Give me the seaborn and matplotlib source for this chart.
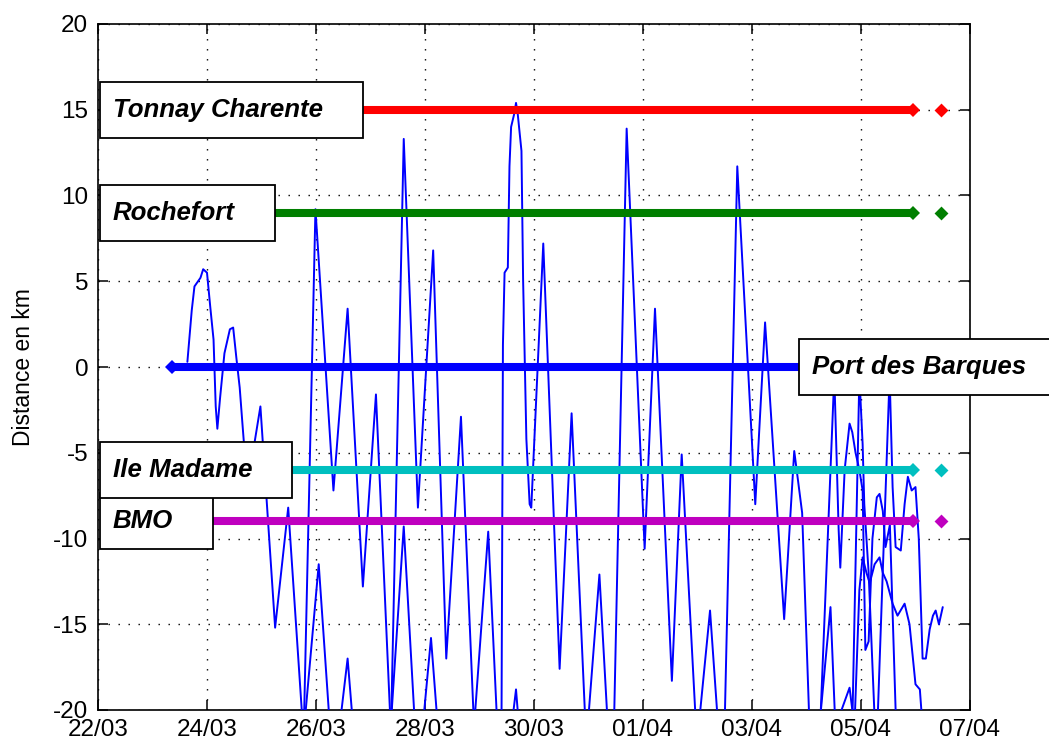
import matplotlib
matplotlib.use("Agg")
import matplotlib.pyplot as plt
from matplotlib.patches import Rectangle
from matplotlib.transforms import IdentityTransform
import seaborn as sns

# ---- data -----------------------------------------------------------------
# time axis: days since 22/03 00:00
tick_days = [0, 2, 4, 6, 8, 10, 12, 14, 16]
tick_labels = ["22/03", "24/03", "26/03", "28/03", "30/03",
               "01/04", "03/04", "05/04", "07/04"]
y_ticks = [-20, -15, -10, -5, 0, 5, 10, 15, 20]

# stations along the estuary (km relative to Port des Barques)
stations = ["Tonnay Charente", "Rochefort", "Port des Barques", "Ile Madame", "BMO"]
station_km = [15, 9, 0, -6, -9]
station_colors = ["#ff0000", "#007f00", "#0000ff", "#00bfbf", "#bf00bf"]
label_day = [0.27, 0.27, 13.1, 0.27, 0.27]

# period covered by the station records (days since 22/03)
record_start = 1.36
record_end = 14.95
record_last = 15.47

# drifter tracks: time (days since 22/03) and distance (km)
track_a_t = [1.64, 1.72, 1.77, 1.88, 1.93, 2.00, 2.06, 2.12, 2.16, 2.19, 2.24, 2.32,
             2.42, 2.48, 2.54, 2.60, 2.65, 2.74, 2.98, 3.25, 3.49, 3.77, 4.05, 4.32,
             4.58, 4.86]
track_a_km = [0.3, 3.3, 4.7, 5.2, 5.7, 5.5, 3.5, 1.6, -2.3, -3.6, -1.8, 0.8,
              2.2, 2.3, 0.5, -1.2, -3.3, -7.0, -2.3, -15.2, -8.2, -21.5, -11.5, -24.0,
              -17.0, -28.0]

track_b_t = [3.77, 3.99, 4.32, 4.58, 4.86, 5.10, 5.37, 5.61, 5.87, 6.11, 6.38]
track_b_km = [-22.0, 9.2, -7.2, 3.4, -12.8, -1.6, -21.0, -9.3, -24.0, -15.8, -27.0]

track_c_t = [5.37, 5.61, 5.87, 6.15, 6.39, 6.66, 6.90, 7.16, 7.40, 7.67, 7.95]
track_c_km = [-22.0, 13.3, -8.2, 6.8, -17.0, -2.9, -21.0, -9.6, -26.0, -18.8, -30.0]

track_d_t = [7.40, 7.43, 7.46, 7.52, 7.55, 7.58, 7.64, 7.67, 7.70, 7.77, 7.80, 7.86,
             7.92, 7.95, 8.17, 8.47, 8.69, 8.96, 9.20, 9.46, 9.70, 9.98]
track_d_km = [-24.0, 1.3, 5.5, 5.8, 11.7, 14.0, 14.8, 15.4, 14.8, 12.6, 5.1, -4.2,
              -8.0, -8.2, 7.2, -17.6, -2.7, -22.0, -12.1, -27.0, -21.0, -30.0]

track_e_t = [9.46, 9.70, 10.03, 10.22, 10.53, 10.71, 10.99, 11.23, 11.49]
track_e_km = [-22.0, 13.9, -10.6, 3.4, -18.3, -5.1, -22.0, -14.2, -26.0]

track_f_t = [11.49, 11.73, 12.06, 12.24, 12.59, 12.775, 12.92, 13.05, 13.20]
track_f_km = [-22.0, 11.7, -8.0, 2.6, -14.7, -4.9, -8.5, -20.5, -22.0]

track_g_t = [13.25, 13.44, 13.53, 13.79, 13.88, 13.97, 14.03, 14.10, 14.16, 14.25,
             14.34, 14.40, 14.47, 14.58, 14.67, 14.80, 14.89, 15.00, 15.08, 15.13]
track_g_km = [-20.5, -14.0, -21.0, -18.7, -21.0, -13.0, -11.1, -12.0, -12.6, -11.5,
              -11.1, -12.0, -12.5, -13.8, -14.5, -13.8, -15.0, -18.5, -18.8, -21.0]

track_h_t = [13.25, 13.51, 13.59, 13.62, 13.70, 13.79, 13.84, 13.90, 13.97, 14.03,
             14.08, 14.14, 14.21, 14.29, 14.34, 14.40, 14.45, 14.53, 14.64]
track_h_km = [-21.0, -0.5, -9.5, -11.7, -6.0, -3.3, -3.8, -5.0, -6.0, -7.2,
              -16.5, -16.0, -10.0, -7.6, -7.4, -8.4, -10.5, -9.2, -20.5]

track_i_t = [13.84, 13.97, 14.03, 14.06, 14.14, 14.25]
track_i_km = [-21.0, -0.5, -4.5, -8.0, -12.0, -20.5]

track_j_t = [14.30, 14.525, 14.58, 14.635, 14.73, 14.80, 14.86, 14.93, 15.00, 15.06,
             15.13, 15.19, 15.26, 15.32, 15.37, 15.43, 15.50]
track_j_km = [-21.0, -0.5, -7.0, -10.5, -10.7, -8.0, -6.4, -7.2, -7.0, -10.0,
              -17.0, -17.0, -15.3, -14.5, -14.2, -15.0, -14.0]

tracks = [
    (track_a_t, track_a_km), (track_b_t, track_b_km), (track_c_t, track_c_km),
    (track_d_t, track_d_km), (track_e_t, track_e_km), (track_f_t, track_f_km),
    (track_g_t, track_g_km), (track_h_t, track_h_km), (track_i_t, track_i_km),
    (track_j_t, track_j_km),
]

# ---- figure ---------------------------------------------------------------
sns.set_style("white")
plt.rcParams["font.family"] = ["Liberation Sans", "DejaVu Sans"]
plt.rcParams["text.color"] = "black"

W, H = 1049, 742
fig = plt.figure(figsize=(W / 100, H / 100), dpi=100)
ax = fig.add_axes([98 / W, 1 - 710 / H, 872 / W, 686 / H])

# drifter tracks
for t, km in tracks:
    sns.lineplot(x=t, y=km, ax=ax, color="#0000ff", linewidth=1.4,
                 sort=False, estimator=None, zorder=3)

# station reference lines
for km, col in zip(station_km, station_colors):
    sns.lineplot(x=[record_start, record_end], y=[km, km], ax=ax, color=col,
                 linewidth=5.8, solid_capstyle="butt", marker="D",
                 markersize=7, markeredgewidth=0, zorder=4)
    sns.scatterplot(x=[record_last], y=[km], ax=ax, color=col, marker="D",
                    s=50, linewidth=0, zorder=4)

ax.set_xlim(tick_days[0], tick_days[-1])
ax.set_ylim(y_ticks[0], y_ticks[-1])
ax.set_xticks(tick_days)
ax.set_xticklabels(tick_labels)
ax.set_yticks(y_ticks)
ax.set_yticklabels([str(v) for v in y_ticks])
ax.tick_params(direction="in", length=7, width=1.1, labelsize=17.5, colors="black",
               labelcolor="black", top=True, right=True, bottom=True, left=True)
ax.tick_params(axis="x", pad=6.5)
ax.tick_params(axis="y", pad=7)
for s in ax.spines.values():
    s.set_color("black")
    s.set_linewidth(1.2)
    s.set_visible(True)
ax.grid(True, color="black", linestyle=(0, (1, 6.2)), linewidth=1.0)
ax.set_axisbelow(True)

ax.set_ylabel("Distance en km", fontsize=16.5, color="black")
ax.yaxis.set_label_coords(-(98 - 35) / 872, 0.5)
ax.set_xlabel("")

# station name boxes
texts = []
for name, km, d in zip(stations, station_km, label_day):
    txt = ax.text(d, km, name, fontsize=18.6, fontweight="bold", fontstyle="italic",
                  color="black", ha="left", va="center", zorder=7, clip_on=False)
    texts.append(txt)

fig.canvas.draw()
renderer = fig.canvas.get_renderer()
box_z = {"BMO": 5, "Ile Madame": 6}
for txt, name, km in zip(texts, stations, station_km):
    bb = txt.get_window_extent(renderer)
    yc = ax.transData.transform((0, km))[1]
    z = box_z.get(name, 6)
    rect = Rectangle((bb.x0 - 13, yc - 28), bb.width + 53, 56,
                     transform=IdentityTransform(), facecolor="white",
                     edgecolor="black", linewidth=1.3, zorder=z, clip_on=False)
    ax.add_artist(rect)
    txt.set_zorder(z + 0.5)

fig.savefig("out.png", dpi=100, facecolor="white")
